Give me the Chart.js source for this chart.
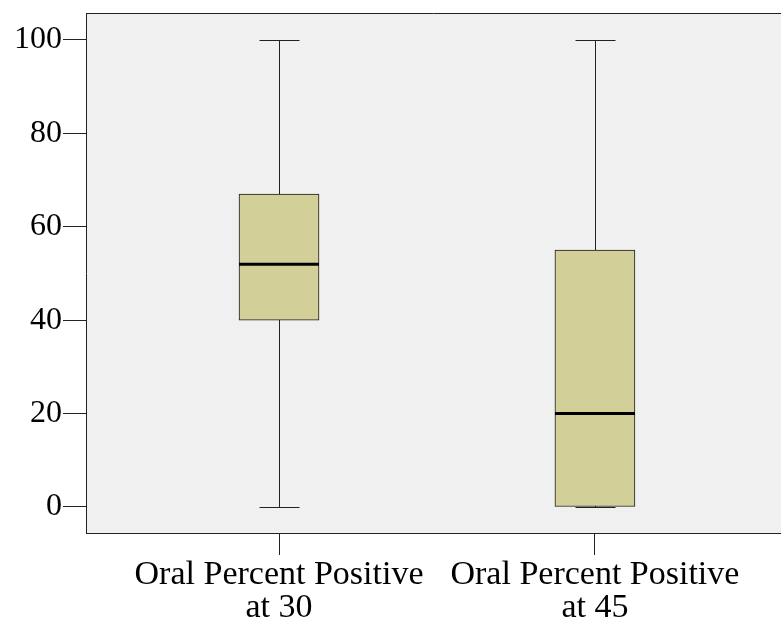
<!DOCTYPE html>
<html>
<head>
<meta charset="utf-8">
<script src="https://cdn.jsdelivr.net/npm/chart.js@4"></script>
<style>
  html, body { margin: 0; padding: 0; background: #fff; }
  #wrap { width: 781px; height: 621px; }
</style>
</head>
<body>
<div id="wrap"><canvas id="chart-1"></canvas></div>
<script>
// Box plot data
const categories = [["Oral Percent Positive", "at 30"], ["Oral Percent Positive", "at 45"]];
const positions = [1, 2];
const mins = [0, 0];
const q1s = [40, 0];
const medians = [52, 20];
const q3s = [67, 55];
const maxs = [100, 100];
const yTicks = [0, 20, 40, 60, 80, 100];

const boxPlugin = {
  id: "boxPlot",
  beforeDraw(chart) {
    const { ctx, chartArea: a } = chart;
    ctx.save();
    ctx.fillStyle = "#f0f0f0";
    ctx.fillRect(a.left, a.top, a.right - a.left, a.bottom - a.top);
    ctx.strokeStyle = "#222";
    ctx.lineWidth = 1;
    ctx.beginPath();
    ctx.moveTo(a.left, a.top + 0.5);
    ctx.lineTo(a.right, a.top + 0.5);
    ctx.stroke();
    ctx.restore();
  },
  beforeDatasetsDraw(chart) {
    // whiskers, drawn under the boxes
    const { ctx, scales: { x, y } } = chart;
    ctx.save();
    ctx.strokeStyle = "#222";
    ctx.lineWidth = 1;
    positions.forEach((p, i) => {
      const cx = Math.round(x.getPixelForValue(p)) + 0.5;
      const top = y.getPixelForValue(maxs[i]);
      const bot = y.getPixelForValue(mins[i]);
      ctx.beginPath();
      ctx.moveTo(cx, top);
      ctx.lineTo(cx, bot);
      ctx.moveTo(cx - 20, Math.round(top) + 0.5);
      ctx.lineTo(cx + 20, Math.round(top) + 0.5);
      ctx.moveTo(cx - 20, Math.round(bot) + 0.5);
      ctx.lineTo(cx + 20, Math.round(bot) + 0.5);
      ctx.stroke();
    });
    ctx.restore();
  },
  afterDatasetsDraw(chart) {
    // medians
    const { ctx, scales: { x, y } } = chart;
    ctx.save();
    ctx.strokeStyle = "#000";
    ctx.lineWidth = 3;
    positions.forEach((p, i) => {
      const cx = x.getPixelForValue(p);
      const my = y.getPixelForValue(medians[i]);
      ctx.beginPath();
      ctx.moveTo(cx - 40, my);
      ctx.lineTo(cx + 40, my);
      ctx.stroke();
    });
    ctx.restore();
  }
};

const ctx1 = document.getElementById("chart-1").getContext("2d");
const myChart = new Chart(ctx1, {
  type: "bar",
  data: {
    datasets: [
      {
        data: positions.map((p, i) => ({ x: p, y: [q1s[i], q3s[i]] })),
        backgroundColor: "#d3cf99",
        borderColor: "#1a1a1a",
        borderWidth: 1,
        borderSkipped: false,
        barThickness: 80,
      },
    ],
  },
  options: {
    responsive: true,
    maintainAspectRatio: false,
    animation: false,
    layout: { padding: { top: 13, right: 0, left: 0, bottom: 0 } },
    plugins: { legend: { display: false }, tooltip: { enabled: false } },
    scales: {
      x: {
        type: "linear",
        offset: false,
        min: 0.389,
        max: 2.589,
        afterBuildTicks: (s) => { s.ticks = positions.map(v => ({ value: v })); },
        afterFit: (s) => { s.height = 88; s.paddingLeft = 0; s.paddingRight = 0; },
        grid: { offset: false, drawOnChartArea: false, color: "#222", tickLength: 22, tickWidth: 1 },
        border: { display: true, color: "#222", width: 1 },
        ticks: {
          color: "#000",
          padding: 4,
          maxRotation: 0,
          autoSkip: false,
          font: { family: "'Liberation Serif', 'Times New Roman', serif", size: 34, lineHeight: 0.97 },
          callback: (v) => categories[positions.indexOf(v)] || "",
        },
      },
      y: {
        min: -5.57,
        max: 105.78,
        afterBuildTicks: (s) => { s.ticks = yTicks.map(v => ({ value: v })); },
        afterFit: (s) => { s.width = 86; s.paddingTop = 0; s.paddingBottom = 0; },
        grid: { drawOnChartArea: false, color: "#222", tickLength: 23, tickWidth: 1 },
        border: { display: true, color: "#222", width: 1 },
        ticks: {
          color: "#000",
          padding: 1,
          font: { family: "'Liberation Serif', 'Times New Roman', serif", size: 32 },
        },
      },
    },
  },
  plugins: [boxPlugin],
});
</script>
</body>
</html>
